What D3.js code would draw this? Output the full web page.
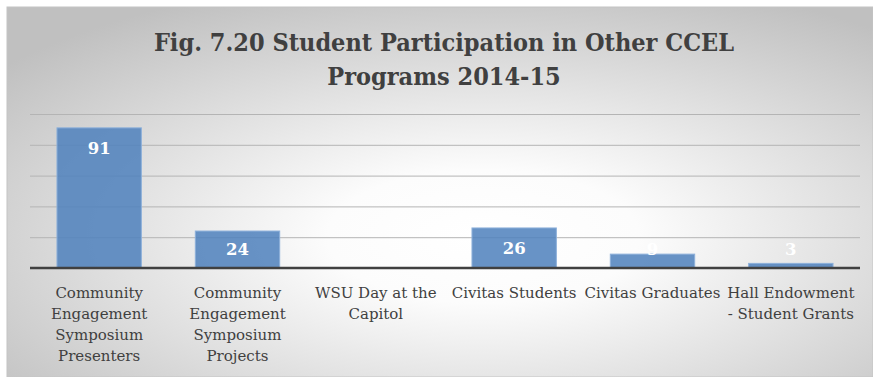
<!DOCTYPE html>
<html>
<head>
<meta charset="utf-8">
<script src="https://cdn.jsdelivr.net/npm/d3@7"></script>
<style>
  html, body { margin: 0; padding: 0; background: #ffffff; }
  svg { display: block; }
</style>
</head>
<body>
<svg id="chart" width="873" height="377"></svg>
<script>
// Student participation counts by program, 2014-15
const categories = [
  "Community Engagement Symposium Presenters",
  "Community Engagement Symposium Projects",
  "WSU Day at the Capitol",
  "Civitas Students",
  "Civitas Graduates",
  "Hall Endowment - Student Grants"
];
const values = [91, 24, 0, 26, 9, 3];
const gridTicks = [0, 20, 40, 60, 80, 100];
const titleLines = ["Fig. 7.20 Student Participation in Other CCEL", "Programs 2014-15"];

const W = 873, H = 377;
const svg = d3.select("#chart");
const serif = "'DejaVu Serif', serif";

// chart area with radial grey-to-white fill
const defs = svg.append("defs");
const grad = defs.append("radialGradient")
  .attr("id", "bg")
  .attr("cx", "0.55").attr("cy", "0.62").attr("r", "0.72");
grad.append("stop").attr("offset", "0").attr("stop-color", "#ffffff");
grad.append("stop").attr("offset", "0.25").attr("stop-color", "#fcfcfc");
grad.append("stop").attr("offset", "1").attr("stop-color", "#c0c0c0");

svg.append("rect")
  .attr("x", 7).attr("y", 7)
  .attr("width", W - 7).attr("height", H - 7)
  .attr("fill", "url(#bg)")
  .attr("stroke", "#c4c4c4").attr("stroke-width", 1);

// plot area
const plot = { left: 30, right: 860, top: 114, bottom: 268 };

const x = d3.scaleBand()
  .domain(categories)
  .range([plot.left, plot.right])
  .paddingInner(0.39)
  .paddingOuter(0.195);

const y = d3.scaleLinear()
  .domain([0, 100])
  .range([plot.bottom, plot.top]);

// horizontal gridlines
svg.append("g")
  .selectAll("line")
  .data(gridTicks.filter(t => t > 0))
  .join("line")
  .attr("x1", plot.left).attr("x2", plot.right)
  .attr("y1", d => y(d) + 0.5).attr("y2", d => y(d) + 0.5)
  .attr("stroke", "#b4b4b4").attr("stroke-width", 1);

// bars
svg.append("g")
  .selectAll("rect")
  .data(values)
  .join("rect")
  .attr("x", (d, i) => x(categories[i]))
  .attr("y", d => y(d))
  .attr("width", x.bandwidth())
  .attr("height", d => y(0) - y(d))
  .attr("fill", "#4F81BD")
  .attr("fill-opacity", 0.86)
  .attr("stroke", "#8db0da")
  .attr("stroke-width", d => d > 0 ? 1 : 0);

// category axis line
svg.append("line")
  .attr("x1", plot.left).attr("x2", plot.right)
  .attr("y1", y(0)).attr("y2", y(0))
  .attr("stroke", "#404040").attr("stroke-width", 2.5);

// value labels placed just inside the bar end
svg.append("g")
  .selectAll("text")
  .data(values)
  .join("text")
  .attr("x", (d, i) => x(categories[i]) + x.bandwidth() / 2)
  .attr("y", d => Math.min(y(d) + 26, y(0) - 13))
  .attr("text-anchor", "middle")
  .attr("font-family", serif)
  .attr("font-weight", "bold")
  .attr("font-size", 16.5)
  .attr("fill", "#ffffff")
  .text(d => d > 0 ? d : "");

// wrapped category labels
const labelSize = 15;
const lineH = 21;
const maxLabelW = 137;
const measurer = svg.append("text")
  .attr("font-family", serif).attr("font-size", labelSize)
  .attr("visibility", "hidden");
function textW(s) { measurer.text(s); return measurer.node().getComputedTextLength(); }
function wrap(s) {
  const words = s.split(" ");
  const lines = [];
  let cur = "";
  words.forEach(w => {
    const cand = cur ? cur + " " + w : w;
    if (cur && textW(cand) > maxLabelW) { lines.push(cur); cur = w; }
    else cur = cand;
  });
  if (cur) lines.push(cur);
  return lines;
}

const labels = svg.append("g");
categories.forEach(c => {
  const lines = wrap(c);
  let cx = x(c) + x.bandwidth() / 2;
  const widest = d3.max(lines, textW);
  if (cx + widest / 2 > 856) cx = 856 - widest / 2;
  const t = labels.append("text")
    .attr("font-family", serif)
    .attr("font-size", labelSize)
    .attr("fill", "#404040")
    .attr("text-anchor", "middle");
  lines.forEach((ln, k) => {
    t.append("tspan").attr("x", cx).attr("y", 298 + k * lineH).text(ln);
  });
});
measurer.remove();

// title
const title = svg.append("text")
  .attr("text-anchor", "middle")
  .attr("font-family", "'DejaVu Serif Condensed', 'DejaVu Serif', serif")
  .attr("font-stretch", "condensed")
  .attr("font-weight", "bold")
  .attr("font-size", 25)
  .attr("fill", "#404040");
title.selectAll("tspan")
  .data(titleLines)
  .join("tspan")
  .attr("x", 444)
  .attr("y", (d, i) => 51 + i * 34)
  .text(d => d);
</script>
</body>
</html>
